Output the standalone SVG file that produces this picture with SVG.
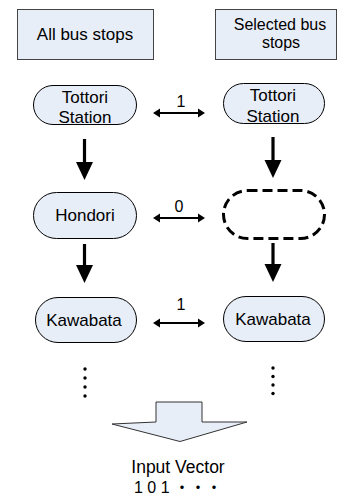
<svg xmlns="http://www.w3.org/2000/svg" width="344" height="497" viewBox="0 0 344 497">
<style>
  text { font-family: "Liberation Sans", "Noto Sans CJK JP", sans-serif; fill: #000; }
  .hdr { fill: #E8EEF8; stroke: #444; stroke-width: 1; }
  .node { fill: #E8EEF8; stroke: #000; stroke-width: 1; }
  .dash { fill: #fff; stroke: #000; stroke-width: 3; stroke-dasharray: 10 5; }
  .lbl { font-size: 17px; text-anchor: middle; }
  .lbl2 { font-size: 16px; text-anchor: middle; }
  .num { font-size: 16px; text-anchor: middle; }
  .line { stroke: #000; stroke-width: 2; fill: none; }
  .shaft { stroke: #000; stroke-width: 3.2; fill: none; }
  .head { fill: #000; stroke: none; }
  .big { fill: #E8EEF8; stroke: #333; stroke-width: 1; }
</style>
<rect width="344" height="497" fill="#fff"/>

<g id="hdr-all">
  <rect class="hdr" x="17.5" y="9.5" width="136" height="50"/>
  <text class="lbl" x="85" y="40">All bus stops</text>
</g>
<g id="hdr-selected">
  <rect class="hdr" x="215.5" y="9.5" width="121" height="50"/>
  <text class="lbl2" x="280" y="30">Selected bus</text>
  <text class="lbl2" x="281" y="48">stops</text>
</g>

<g id="n-tottori-all">
  <rect class="node" x="33.5" y="85.5" width="103" height="39" rx="19.5"/>
  <text class="lbl" x="85" y="103">Tottori</text>
  <text class="lbl" x="85" y="123">Station</text>
</g>
<g id="n-tottori-sel">
  <rect class="node" x="223.5" y="83.5" width="101" height="40" rx="20"/>
  <text class="lbl" x="273" y="101">Tottori</text>
  <text class="lbl" x="273" y="122">Station</text>
</g>
<g id="n-hondori-all">
  <rect class="node" x="33.5" y="192.5" width="103" height="46" rx="23"/>
  <text class="lbl" x="85" y="221">Hondori</text>
</g>
<g id="n-empty-sel">
  <rect class="dash" x="223.5" y="190.5" width="101" height="48" rx="24"/>
</g>
<g id="n-kawabata-all">
  <rect class="node" x="35.5" y="297.5" width="101" height="45" rx="22.5"/>
  <text class="lbl" x="84" y="326">Kawabata</text>
</g>
<g id="n-kawabata-sel">
  <rect class="node" x="223.5" y="296.5" width="101" height="45" rx="22.5"/>
  <text class="lbl" x="273" y="325">Kawabata</text>
</g>

<g id="connectors">
  <line class="shaft" x1="84.5" y1="139" x2="84.5" y2="164"/>
  <polygon class="head" points="76,162 93,162 84.5,180"/>
  <line class="shaft" x1="84.5" y1="244" x2="84.5" y2="267"/>
  <polygon class="head" points="76,265 93,265 84.5,283"/>
  <line class="shaft" x1="273" y1="137" x2="273" y2="162"/>
  <polygon class="head" points="264.5,160 281.5,160 273,178"/>
  <line class="shaft" x1="273" y1="243" x2="273" y2="266"/>
  <polygon class="head" points="264.5,264 281.5,264 273,282"/>
  <line class="line" x1="158" y1="113" x2="200" y2="113"/>
  <polygon class="head" points="153,113 160,108.5 160,117.5"/>
  <polygon class="head" points="205,113 198,108.5 198,117.5"/>
  <line class="line" x1="158" y1="218" x2="200" y2="218"/>
  <polygon class="head" points="153,218 160,213.5 160,222.5"/>
  <polygon class="head" points="205,218 198,213.5 198,222.5"/>
  <line class="line" x1="158" y1="323" x2="200" y2="323"/>
  <polygon class="head" points="153,323 160,318.5 160,327.5"/>
  <polygon class="head" points="205,323 198,318.5 198,327.5"/>
  <text class="num" x="181" y="107">1</text>
  <text class="num" x="179" y="212">0</text>
  <text class="num" x="181" y="310">1</text>
</g>

<g id="dots">
  <circle cx="85" cy="369" r="1.7"/>
  <circle cx="85" cy="378" r="1.7"/>
  <circle cx="85" cy="387" r="1.7"/>
  <circle cx="85" cy="396" r="1.7"/>
  <circle cx="273" cy="368" r="1.7"/>
  <circle cx="273" cy="376.5" r="1.7"/>
  <circle cx="273" cy="385" r="1.7"/>
  <circle cx="273" cy="393.5" r="1.7"/>
</g>

<g id="big-arrow">
  <polygon class="big" points="156,402 202,402 202,422 247,422 180,441.5 112,424 156,422"/>
</g>

<g id="output">
  <text x="178" y="473" font-size="17.5" text-anchor="middle">Input Vector</text>
  <text x="178" y="493" font-size="16" text-anchor="middle">1 0 1 ・・・</text>
</g>
</svg>
